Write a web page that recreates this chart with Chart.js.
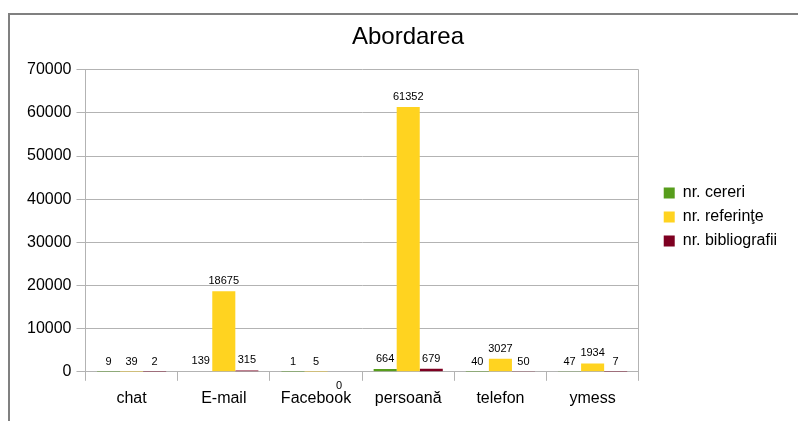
<!DOCTYPE html>
<html>
<head>
<meta charset="utf-8">
<script src="https://cdn.jsdelivr.net/npm/chart.js@4/dist/chart.umd.min.js"></script>
<style>
  html, body { margin: 0; padding: 0; background: #fff; }
  #wrap { width: 798px; height: 421px; position: relative; }
</style>
</head>
<body>
<div id="wrap"><canvas id="abordareaChart"></canvas></div>
<script>
const categories = ['chat', 'E-mail', 'Facebook', 'persoană', 'telefon', 'ymess'];
const cereri = [9, 139, 1, 664, 40, 47];
const referinte = [39, 18675, 5, 61352, 3027, 1934];
const bibliografii = [2, 315, 0, 679, 50, 7];
const yTicks = [0, 10000, 20000, 30000, 40000, 50000, 60000, 70000];

const FONT = '"Liberation Sans", Arial, sans-serif';
const GRID = '#b3b3b3';

// outer frame (only top and left edges are visible in the picture)
const framePlugin = {
    id: 'frame',
    beforeDraw(chart) {
        const c = chart.ctx;
        c.save();
        c.fillStyle = '#fff';
        c.fillRect(0, 0, chart.width, chart.height);
        c.fillStyle = '#808080';
        c.fillRect(8, 13, chart.width - 8, 2);
        c.fillRect(8, 13, 2, chart.height - 13);
        c.restore();
    }
};

// nudge legend and title to where the original puts them
const boxShift = {
    id: 'boxShift',
    afterLayout(chart) {
        const lg = chart.legend;
        lg.left += 17; lg.right += 17;
        lg.top += 2; lg.bottom += 2;
        const t = chart.titleBlock;
        if (t) { t.left += 12; t.right += 12; }
    }
};

// value labels above each bar
const valueLabels = {
    id: 'valueLabels',
    afterDatasetsDraw(chart) {
        const c = chart.ctx;
        c.save();
        c.font = '11px ' + FONT;
        c.fillStyle = '#000';
        c.textAlign = 'center';
        chart.data.datasets.forEach((ds, i) => {
            chart.getDatasetMeta(i).data.forEach((bar, j) => {
                const v = ds.data[j];
                if (v === 0) {
                    c.textBaseline = 'top';
                    c.fillText(String(v), bar.x, bar.y + 9);
                } else {
                    c.textBaseline = 'alphabetic';
                    c.fillText(String(v), bar.x, bar.y - 7);
                }
            });
        });
        c.restore();
    }
};

const ctx = document.getElementById('abordareaChart').getContext('2d');
new Chart(ctx, {
    type: 'bar',
    data: {
        labels: categories,
        datasets: [
            { label: 'nr. cereri', data: cereri, backgroundColor: '#579d1c' },
            { label: 'nr. referinţe', data: referinte, backgroundColor: '#ffd320' },
            { label: 'nr. bibliografii', data: bibliografii, backgroundColor: '#7e0021' }
        ]
    },
    options: {
        responsive: true,
        maintainAspectRatio: false,
        animation: false,
        categoryPercentage: 0.75,
        barPercentage: 1,
        layout: { padding: { left: 22, right: 28, top: 14, bottom: 5 } },
        scales: {
            x: {
                grid: {
                    offset: true,
                    tickLength: 9,
                    color: c => (c.index === 0 || c.type === 'scale') ? GRID : 'rgba(0,0,0,0)',
                    tickColor: GRID
                },
                border: { color: GRID },
                ticks: { color: '#000', font: { family: FONT, size: 16 }, padding: 8 }
            },
            y: {
                min: 0,
                max: 70000,
                afterBuildTicks: axis => { axis.ticks = yTicks.map(v => ({ value: v })); },
                grid: { color: GRID, tickLength: 9, tickColor: GRID },
                border: { color: GRID },
                ticks: {
                    color: '#000',
                    font: { family: FONT, size: 16 },
                    padding: 5,
                    callback: v => String(v)
                }
            }
        },
        plugins: {
            title: {
                display: true,
                text: 'Abordarea',
                color: '#000',
                font: { family: FONT, size: 24, weight: 'normal' },
                padding: { top: 9, bottom: 18 }
            },
            legend: {
                position: 'right',
                labels: {
                    boxWidth: 11,
                    boxHeight: 11,
                    padding: 8,
                    color: '#000',
                    font: { family: FONT, size: 16 }
                }
            },
            tooltip: { enabled: false }
        }
    },
    plugins: [framePlugin, boxShift, valueLabels]
});
</script>
</body>
</html>
